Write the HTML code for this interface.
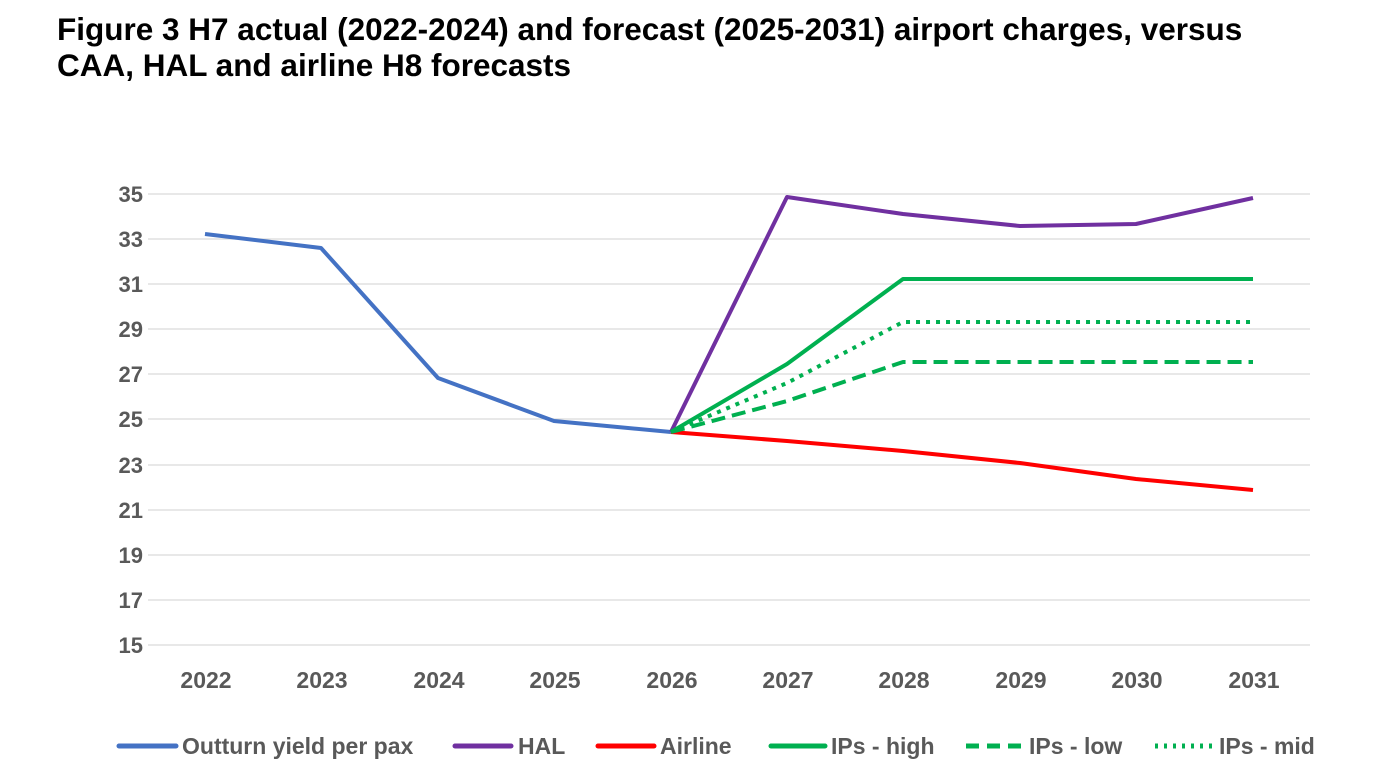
<!DOCTYPE html>
<html><head><style>
body{margin:0;width:1380px;height:780px;background:#fff;overflow:hidden;font-family:"Liberation Sans",sans-serif}
.t{position:absolute;left:57px;top:11px;font-size:31.5px;font-weight:bold;line-height:36px;color:#000;white-space:nowrap}
</style></head><body>
<div class="t">Figure 3 H7 actual (2022-2024) and forecast (2025-2031) airport charges, versus<br>CAA, HAL and airline H8 forecasts</div>
<svg width="1380" height="780" style="position:absolute;left:0;top:0" font-family="Liberation Sans, sans-serif" font-weight="bold" fill="#595959">
<g stroke="#d9d9d9" stroke-width="1.3">
<line x1="148" x2="1310" y1="194" y2="194"/><line x1="148" x2="1310" y1="239" y2="239"/>
<line x1="148" x2="1310" y1="284" y2="284"/><line x1="148" x2="1310" y1="329" y2="329"/>
<line x1="148" x2="1310" y1="374" y2="374"/><line x1="148" x2="1310" y1="419" y2="419"/>
<line x1="148" x2="1310" y1="465" y2="465"/><line x1="148" x2="1310" y1="510" y2="510"/>
<line x1="148" x2="1310" y1="555" y2="555"/><line x1="148" x2="1310" y1="600" y2="600"/>
<line x1="148" x2="1310" y1="645" y2="645"/>
</g>
<g font-size="22" text-anchor="end">
<text x="143" y="202">35</text><text x="143" y="247">33</text><text x="143" y="292">31</text>
<text x="143" y="337">29</text><text x="143" y="382">27</text><text x="143" y="427">25</text>
<text x="143" y="473">23</text><text x="143" y="518">21</text><text x="143" y="563">19</text>
<text x="143" y="608">17</text><text x="143" y="653">15</text>
</g>
<g font-size="23" text-anchor="middle">
<text x="206" y="688">2022</text><text x="322" y="688">2023</text><text x="439" y="688">2024</text>
<text x="555" y="688">2025</text><text x="672" y="688">2026</text><text x="788" y="688">2027</text>
<text x="904" y="688">2028</text><text x="1021" y="688">2029</text><text x="1137" y="688">2030</text>
<text x="1254" y="688">2031</text>
</g>
<g fill="none" stroke-width="4" stroke-linejoin="round">
<polyline stroke="#4472c4" points="205,234 321,248 438,378 554,421 671,432"/>
<polyline stroke="#7030a0" points="671,432 787,197 903,214 1020,226 1136,224 1253,198"/>
<polyline stroke="#ff0000" points="671,432 787,441 903,451 1020,463 1136,479 1253,490"/>
<polyline stroke="#00b050" points="671,432 787,364 903,279 1253,279"/>
<polyline stroke="#00b050" stroke-dasharray="14,7" points="671,432 787,401 903,362 1253,362"/>
<polyline stroke="#00b050" stroke-dasharray="4,6" points="671,432 787,383 903,322 1253,322"/>
</g>
<g stroke-width="5" stroke-linecap="round">
<line x1="119" x2="176" y1="746" y2="746" stroke="#4472c4"/>
<line x1="455" x2="511" y1="746" y2="746" stroke="#7030a0"/>
<line x1="598" x2="654" y1="746" y2="746" stroke="#ff0000"/>
<line x1="771" x2="825" y1="746" y2="746" stroke="#00b050"/>
<line x1="966" x2="1024" y1="746" y2="746" stroke="#00b050" stroke-dasharray="13,8" stroke-linecap="butt"/>
<line x1="1155" x2="1213" y1="746" y2="746" stroke="#00b050" stroke-dasharray="3,6" stroke-linecap="butt"/>
</g>
<g font-size="23">
<text x="182" y="754">Outturn yield per pax</text>
<text x="518" y="754">HAL</text>
<text x="660" y="754">Airline</text>
<text x="831" y="754">IPs - high</text>
<text x="1029" y="754">IPs - low</text>
<text x="1219" y="754">IPs - mid</text>
</g>
</svg>
</body></html>
